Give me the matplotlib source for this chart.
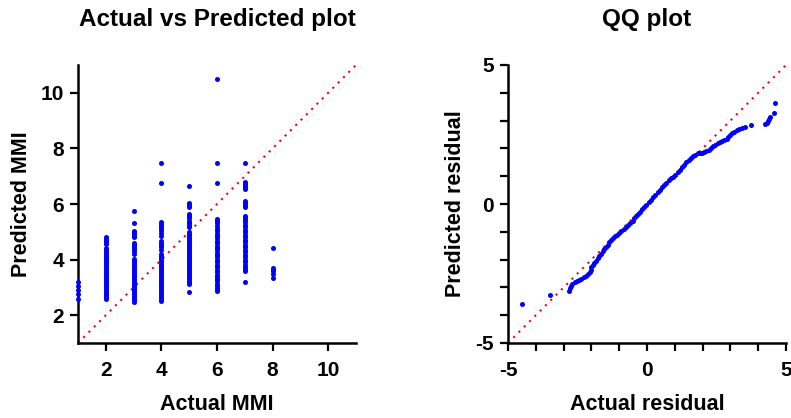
import matplotlib
matplotlib.use("Agg")
import matplotlib.pyplot as plt
from matplotlib.ticker import MultipleLocator

plt.rcParams['font.family'] = ['Liberation Sans', 'DejaVu Sans']
plt.rcParams['font.weight'] = 'bold'
plt.rcParams['axes.unicode_minus'] = False

# predicted MMI for each actual MMI level
pred_by_mmi = {
    1: [3.20, 3.05, 2.90, 2.75, 2.60],
    2: [4.80, 4.74, 4.68, 4.62, 4.56, 4.42, 4.35, 4.28, 4.20, 4.13, 4.06, 4.00,
        3.93, 3.86, 3.80, 3.73, 3.66, 3.60, 3.53, 3.46, 3.40, 3.33, 3.26, 3.20,
        3.13, 3.06, 3.00, 2.93, 2.86, 2.80, 2.73, 2.66, 2.60],
    3: [5.74, 5.30, 5.04, 4.98, 4.92, 4.86, 4.80, 4.61, 4.54, 4.46, 4.38, 4.30,
        4.19, 4.01, 3.94, 3.87, 3.80, 3.73, 3.66, 3.59, 3.52, 3.45, 3.38, 3.31,
        3.24, 3.17, 3.10, 3.03, 2.96, 2.89, 2.82, 2.75, 2.68, 2.61, 2.54, 2.47],
    4: [7.47, 6.77, 5.34, 5.27, 5.20, 5.13, 5.06, 4.96, 4.86, 4.68, 4.60, 4.52,
        4.44, 4.36, 4.19, 4.12, 4.05, 3.98, 3.91, 3.84, 3.77, 3.70, 3.63, 3.56,
        3.49, 3.42, 3.35, 3.28, 3.21, 3.14, 3.07, 3.00, 2.93, 2.86, 2.79, 2.72,
        2.65, 2.58, 2.51],
    5: [6.63, 6.03, 5.96, 5.88, 5.64, 5.56, 5.48, 5.40, 5.32, 5.24, 5.16, 4.98,
        4.91, 4.84, 4.77, 4.70, 4.63, 4.56, 4.49, 4.42, 4.35, 4.28, 4.21, 4.14,
        4.07, 4.00, 3.93, 3.86, 3.79, 3.72, 3.65, 3.58, 3.51, 3.44, 3.37, 3.30,
        3.23, 3.16, 3.11, 2.84],
    6: [10.50, 7.47, 6.77, 5.46, 5.38, 5.30, 5.20, 5.10, 5.02, 4.92, 4.84, 4.76,
        4.68, 4.58, 4.50, 4.42, 4.34, 4.24, 4.16, 4.08, 3.98, 3.90, 3.80, 3.72,
        3.64, 3.56, 3.46, 3.38, 3.30, 3.22, 3.14, 3.06, 2.98, 2.92, 2.87],
    7: [7.47, 6.78, 6.72, 6.66, 6.60, 6.54, 6.12, 6.04, 5.96, 5.88, 5.58, 5.50,
        5.42, 5.34, 5.24, 5.16, 5.08, 4.98, 4.90, 4.80, 4.70, 4.62, 4.54, 4.44,
        4.36, 4.26, 4.18, 4.08, 3.98, 3.90, 3.82, 3.74, 3.66, 3.59, 3.20],
    8: [4.41, 3.69, 3.64, 3.59, 3.49, 3.35],
}

# QQ plot points (actual residual quantiles vs predicted residual quantiles)
qq_actual = [-4.50, -3.48,
             -2.80, -2.78, -2.74, -2.68, -2.60, -2.52, -2.44, -2.36, -2.28, -2.20,
             -2.12, -2.06, -2.03, -2.00, -1.96, -1.90, -1.84, -1.78, -1.72, -1.66,
             -1.60, -1.54, -1.48, -1.42, -1.36, -1.30, -1.24, -1.16, -1.08, -1.00,
             -0.92, -0.84, -0.76, -0.68, -0.60, -0.52, -0.46, -0.40, -0.34, -0.26,
             -0.18, -0.10, -0.02, 0.06, 0.14, 0.22, 0.30, 0.38, 0.46, 0.54,
             0.62, 0.70, 0.78, 0.86, 0.94, 1.02, 1.10, 1.18, 1.26, 1.34,
             1.42, 1.50, 1.58, 1.66, 1.74, 1.82, 1.90, 1.98, 2.06, 2.14,
             2.22, 2.30, 2.38, 2.46, 2.54, 2.62, 2.70, 2.78, 2.86, 2.92,
             2.98, 3.06, 3.14, 3.22, 3.30, 3.40, 3.52, 3.74,
             4.26, 4.30, 4.36, 4.40, 4.42, 4.58, 4.60]
qq_predicted = [-3.60, -3.29,
                -3.12, -3.02, -2.94, -2.86, -2.80, -2.76, -2.72, -2.68, -2.64, -2.58,
                -2.52, -2.46, -2.38, -2.28, -2.20, -2.12, -2.04, -1.96, -1.88, -1.80,
                -1.70, -1.62, -1.54, -1.46, -1.38, -1.30, -1.24, -1.16, -1.10, -1.04,
                -0.98, -0.90, -0.82, -0.76, -0.68, -0.60, -0.52, -0.44, -0.36, -0.28,
                -0.18, -0.10, -0.02, 0.06, 0.16, 0.24, 0.34, 0.42, 0.50, 0.60,
                0.68, 0.76, 0.86, 0.92, 0.98, 1.06, 1.14, 1.24, 1.32, 1.42,
                1.50, 1.58, 1.64, 1.72, 1.78, 1.82, 1.84, 1.84, 1.86, 1.90,
                1.96, 2.02, 2.08, 2.14, 2.18, 2.22, 2.26, 2.30, 2.34, 2.40,
                2.48, 2.54, 2.60, 2.66, 2.70, 2.72, 2.78, 2.84,
                2.88, 2.92, 2.98, 3.04, 3.14, 3.28, 3.62]

fig = plt.figure(figsize=(7.91, 4.18), dpi=100)
ax1 = fig.add_axes([78 / 791, 75 / 418, 278 / 791, 278 / 418])
ax2 = fig.add_axes([508 / 791, 75 / 418, 278 / 791, 278 / 418])

for ax in (ax1, ax2):
    for side in ('top', 'right'):
        ax.spines[side].set_visible(False)
    for side in ('left', 'bottom'):
        ax.spines[side].set_linewidth(1.8)
    ax.tick_params(which='both', length=6, width=1.6, labelsize=15, pad=4)
    ax.tick_params(axis='x', which='both', pad=7)

dots = (0, (1, 2.6))

# left: actual vs predicted
for mmi, vals in pred_by_mmi.items():
    ax1.scatter([mmi] * len(vals), vals, s=13, color='#0000FF', linewidths=0,
                zorder=3, clip_on=False)
ax1.plot([1, 11], [1, 11], color='#FF0000', linestyle=dots, linewidth=1.5)
ax1.set_xlim(1, 11)
ax1.set_ylim(1, 11)
ax1.set_xticks([2, 4, 6, 8, 10])
ax1.set_yticks([2, 4, 6, 8, 10])
ax1.set_xlabel('Actual MMI', fontsize=15.5, fontweight='bold', va='center')
ax1.set_ylabel('Predicted MMI', fontsize=15.5, fontweight='bold', va='center')
ax1.xaxis.set_label_coords(0.5, -0.222)
ax1.yaxis.set_label_coords(-0.205, 0.5)
ax1.set_title('Actual vs Predicted plot', fontsize=17.5, fontweight='bold', pad=28)

# right: QQ plot
ax2.scatter(qq_actual, qq_predicted, s=13, color='#0000FF', linewidths=0, zorder=3)
ax2.plot([-5, 5], [-5, 5], color='#FF0000', linestyle=dots, linewidth=1.5)
ax2.set_xlim(-5, 5)
ax2.set_ylim(-5, 5)
ax2.set_xticks([-5, 0, 5])
ax2.set_yticks([-5, 0, 5])
ax2.xaxis.set_minor_locator(MultipleLocator(1))
ax2.yaxis.set_minor_locator(MultipleLocator(1))
ax2.set_xlabel('Actual residual', fontsize=15.5, fontweight='bold', va='center')
ax2.set_ylabel('Predicted residual', fontsize=15.5, fontweight='bold', va='center')
ax2.xaxis.set_label_coords(0.5, -0.222)
ax2.yaxis.set_label_coords(-0.19, 0.5)
ax2.set_title('QQ plot', fontsize=17.5, fontweight='bold', pad=28)

for ax in (ax1, ax2):
    for lbl in ax.get_xticklabels() + ax.get_yticklabels():
        lbl.set_fontweight('bold')

fig.savefig('out.png', dpi=100)
